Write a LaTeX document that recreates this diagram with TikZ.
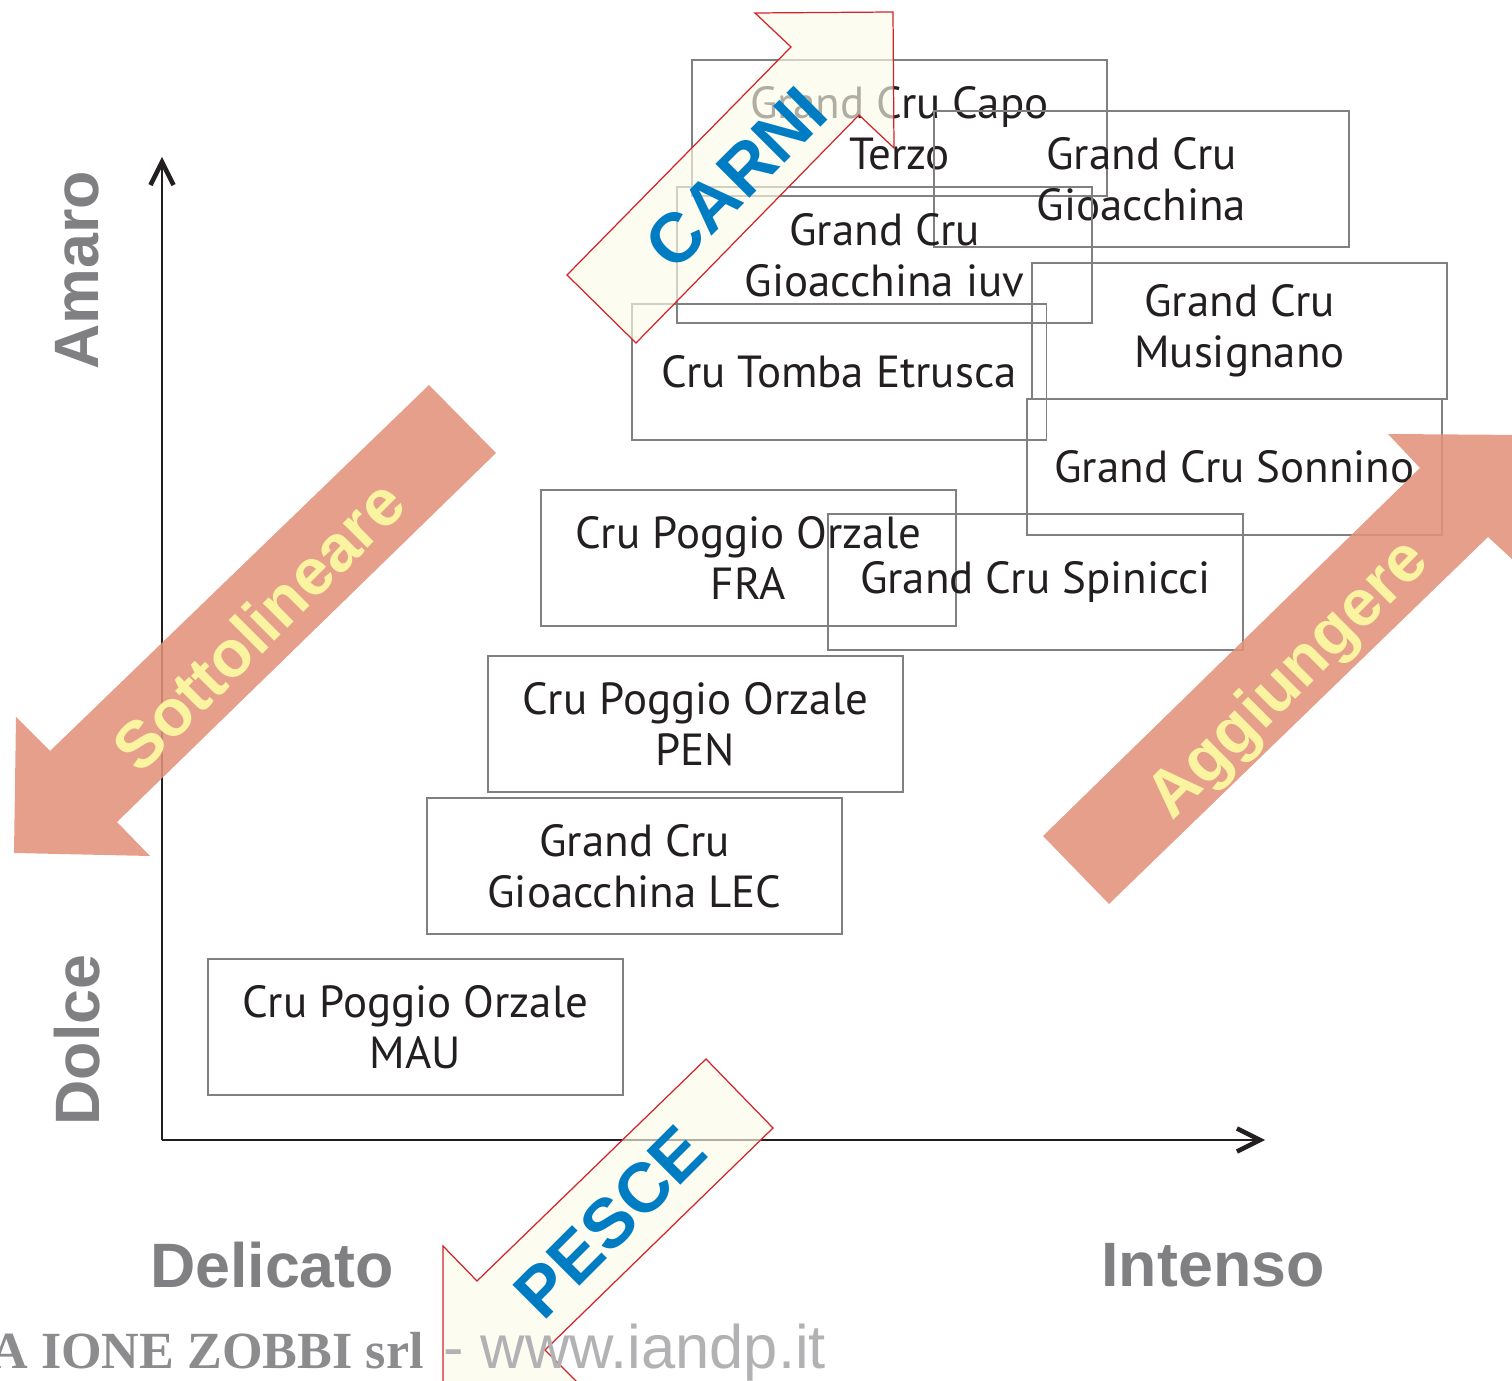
\documentclass[tikz,border=0pt]{standalone}
\usepackage{fontspec}
\setmainfont{Liberation Sans}
\newfontfamily\crufont{PT Sans}
\newfontfamily\serfont{Liberation Serif}
\usetikzlibrary{arrows.meta}
\definecolor{salmon}{RGB}{225,146,122}
\definecolor{bandyellow}{RGB}{250,243,160}
\definecolor{cream}{RGB}{252,251,232}
\definecolor{redline}{RGB}{210,35,42}
\definecolor{foodblue}{RGB}{0,124,195}
\definecolor{labgray}{RGB}{128,128,131}
\definecolor{boxgray}{RGB}{128,128,128}
\definecolor{cruink}{RGB}{35,31,32}
\definecolor{footgray}{RGB}{140,140,142}
\definecolor{wwwgray}{RGB}{178,178,180}

\begin{document}
\begin{tikzpicture}[x=0.02cm, y=-0.02cm, > = {Straight Barb[length=4.6mm, width=4.6mm, line width=2.6pt]},
    cru/.style = {draw=boxgray, line width=1.1pt, minimum width=8.3cm, minimum height=2.72cm, inner sep=0pt, align=center, text=cruink, font=\crufont\fontsize{25.6}{28.9}\selectfont},
    axis/.style = {->, line width=1.7pt, draw=cruink},
    band/.style = {fill=salmon, fill opacity=0.88, draw=none},
    food/.style = {fill=cream, fill opacity=0.65, draw=redline, line width=0.7pt},
    bandtext/.style = {rotate=45, text=bandyellow, font=\bfseries\fontsize{37.4}{40}\selectfont},
    foodtext/.style = {rotate=45, text=foodblue, font=\bfseries\fontsize{39.7}{42}\selectfont},
    scalelabel/.style = {text=labgray, font=\bfseries\fontsize{35.7}{40}\selectfont}]

    \useasboundingbox (0,0) rectangle (1512,1381);
    \clip (0,0) rectangle (1512,1381);

    % axes
    \coordinate (origin) at (162,1140);
    \coordinate (ytop) at (162,157);
    \coordinate (xend) at (1265,1140);
    \draw[axis] (origin) -- (ytop);
    \draw[axis] (origin) -- (xend);

    \node[scalelabel, rotate=90] (amaro) at (77,270) {Amaro};
    \node[scalelabel, rotate=90] (dolce) at (77,1040) {Dolce};
    \node[scalelabel] (delicato) at (272,1265) {Delicato};
    \node[scalelabel] (intenso) at (1213,1265) {Intenso};

    % wines
    \node[cru] (capo) at (899.5,128) {Grand Cru Capo\\Terzo};
    \node[cru] (gioacchina) at (1141.5,179) {Grand Cru\\Gioacchina};
    \node[cru] (iuv) at (884.5,255) {Grand Cru\\Gioacchina iuv};
    \node[cru] (tomba) at (839,372) {Cru Tomba Etrusca};
    \node[cru] (musignano) at (1239.5,331) {Grand Cru\\Musignano};
    \node[cru] (sonnino) at (1234.5,467) {Grand Cru Sonnino};
    \node[cru] (fra) at (748.5,558) {Cru Poggio Orzale\\FRA};
    \node[cru] (spinicci) at (1035.5,582) {Grand Cru Spinicci};
    \node[cru] (pen) at (695.5,724) {Cru Poggio Orzale\\PEN};
    \node[cru] (lec) at (634.5,866) {Grand Cru\\Gioacchina LEC};
    \node[cru] (mau) at (415.5,1027) {Cru Poggio Orzale\\MAU};

    % big arrows
    \fill[band] (429,385) -- (496,453) -- (117,822) -- (150,856) -- (14,853) -- (16,717) -- (50,751) -- cycle;
    \fill[band] (1109,904) -- (1043,836) -- (1420,468) -- (1388,434) -- (1526,435) -- (1526,572) -- (1488,537) -- cycle;
    \node[bandtext] (sottolineare) at (258,625) {Sottolineare};
    \node[bandtext] (aggiungere) at (1290,681) {Aggiungere};

    \draw[food] (567,275) -- (791,47) -- (755,13) -- (893,12) -- (894,148) -- (859,115) -- (636,343) -- cycle;
    \draw[food] (706,1059) -- (773,1128) -- (545,1350) -- (580,1385) -- (443,1385) -- (443,1246) -- (477,1281) -- cycle;
    \node[foodtext] (carni) at (736,178) {CARNI};
    \node[foodtext] (pesce) at (610,1222) {PESCE};

    % footer
    \node[anchor=base east, text=footgray, font=\serfont\bfseries\fontsize{29.7}{32}\selectfont] (firm) at (430,1368) {A IONE ZOBBI srl};
    \node[anchor=base west, text=wwwgray, font=\fontsize{35}{38}\selectfont] (site) at (437,1368) {- www.iandp.it};

\end{tikzpicture}
\end{document}
